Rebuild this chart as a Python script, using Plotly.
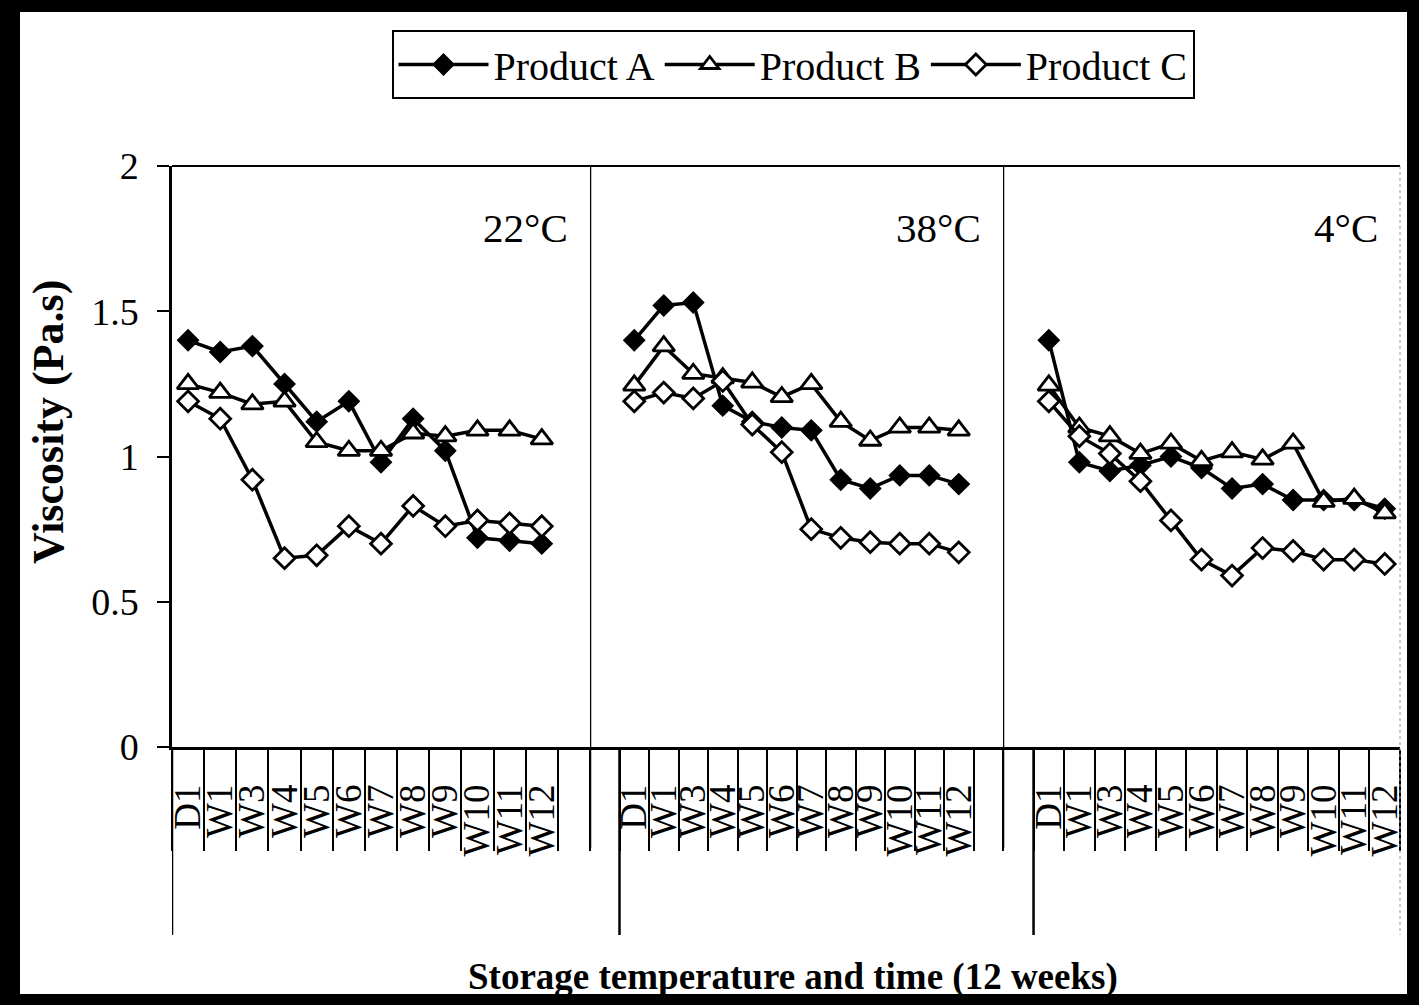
import plotly.graph_objects as go

# Sampling points (day 1, then weeks) and storage temperatures
categories = ["D1", "W1", "W3", "W4", "W5", "W6", "W7", "W8", "W9", "W10", "W11", "W12"]
temperatures = ["22°C", "38°C", "4°C"]
products = ["Product A", "Product B", "Product C"]

# Viscosity (Pa.s) at 22°C
a_22 = [1.40, 1.36, 1.38, 1.25, 1.12, 1.19, 0.98, 1.13, 1.02, 0.72, 0.71, 0.70]
b_22 = [1.25, 1.22, 1.18, 1.19, 1.05, 1.02, 1.02, 1.08, 1.07, 1.09, 1.09, 1.06]
c_22 = [1.19, 1.13, 0.92, 0.65, 0.66, 0.76, 0.70, 0.83, 0.76, 0.78, 0.77, 0.76]

# Viscosity (Pa.s) at 38°C
a_38 = [1.40, 1.52, 1.53, 1.175, 1.12, 1.10, 1.09, 0.92, 0.89, 0.935, 0.935, 0.905]
b_38 = [1.245, 1.38, 1.285, 1.27, 1.255, 1.205, 1.25, 1.12, 1.055, 1.10, 1.10, 1.09]
c_38 = [1.19, 1.22, 1.20, 1.26, 1.11, 1.015, 0.75, 0.72, 0.705, 0.70, 0.70, 0.67]

# Viscosity (Pa.s) at 4°C
a_4 = [1.40, 0.98, 0.95, 0.97, 1.00, 0.96, 0.89, 0.905, 0.85, 0.85, 0.85, 0.82]
b_4 = [1.245, 1.10, 1.07, 1.01, 1.045, 0.985, 1.015, 0.99, 1.045, 0.845, 0.855, 0.805]
c_4 = [1.19, 1.07, 1.01, 0.915, 0.78, 0.645, 0.59, 0.685, 0.675, 0.645, 0.645, 0.63]

y_ticks = [0, 0.5, 1, 1.5, 2]
y_tick_text = ["0", "0.5", "1", "1.5", "2"]

series = {
    "22°C": [a_22, b_22, c_22],
    "38°C": [a_38, b_38, c_38],
    "4°C": [a_4, b_4, c_4],
}

# ---- page geometry -------------------------------------------------------
W, H = 1419, 1005
ML, MR, MT, MB = 172, 19, 166, 258
PW, PH = W - ML - MR, H - MT - MB
FONT = "Liberation Serif"


def fx(px):
    return (px - ML) / PW


def fy(py):
    return (H - MB - py) / PH


# panel domains and axis ranges (one empty slot pads each panel edge)
domains = [[0, fx(590)], [fx(590), fx(1003)], [fx(1003), 1]]
ranges = [[-0.5, 12.5], [-1.5, 12.5], [-1.5, 11.5]]
xaxes = ["x", "x2", "x3"]

markers = [
    dict(symbol="diamond", size=16, color="black",
         line=dict(color="black", width=1.5)),
    dict(symbol="triangle-up", size=19, color="white",
         line=dict(color="black", width=2.8)),
    dict(symbol="diamond", size=16, color="white",
         line=dict(color="black", width=2.8)),
]

fig = go.Figure()
xs = list(range(len(categories)))
for p, temp in enumerate(temperatures):
    for k, name in enumerate(products):
        fig.add_trace(go.Scatter(
            x=xs, y=series[temp][k], mode="lines+markers", name=name,
            legendgroup=name, showlegend=(p == 0),
            xaxis=xaxes[p], yaxis="y",
            line=dict(color="black", width=3.5),
            marker=markers[k], cliponaxis=False,
        ))

layout_axes = {}
for p in range(3):
    lo, hi = ranges[p]
    bounds = [lo + i for i in range(int(hi - lo) + 1)]
    key = "xaxis" if p == 0 else f"xaxis{p + 1}"
    layout_axes[key] = dict(
        domain=domains[p], range=ranges[p], anchor="y",
        showline=True, linecolor="black", linewidth=2.5,
        showgrid=False, zeroline=False,
        tickmode="array", tickvals=xs, ticktext=categories, tickangle=-90,
        ticks="outside", ticklen=20, tickcolor="rgba(0,0,0,0)",
        tickfont=dict(family=FONT, size=37, color="black"),
        minor=dict(tickmode="array", tickvals=bounds, ticks="outside",
                   ticklen=101, tickwidth=2, tickcolor="black",
                   showgrid=False),
    )

shapes = []
# image frame
black = dict(type="rect", xref="paper", yref="paper", fillcolor="black",
             line=dict(width=0), layer="above")
shapes += [
    dict(black, x0=fx(0), x1=fx(20), y0=fy(H), y1=fy(0)),
    dict(black, x0=fx(1407), x1=fx(W), y0=fy(H), y1=fy(0)),
    dict(black, x0=fx(0), x1=fx(W), y0=fy(12), y1=fy(0)),
    dict(black, x0=fx(0), x1=fx(W), y0=fy(H), y1=fy(994)),
]
# top border of plot area
shapes.append(dict(type="line", xref="paper", yref="paper", x0=0, x1=1,
                   y0=1, y1=1, line=dict(color="black", width=2)))
# panel separators running through the plot and down the tick band
for ax in ["x2", "x3"]:
    shapes.append(dict(type="line", xref=ax, yref="paper", x0=-1.5, x1=-1.5,
                       y0=1, y1=fy(848), line=dict(color="black", width=2.5)))
# group separators below the axis
for ax in xaxes:
    shapes.append(dict(type="line", xref=ax, yref="paper", x0=-0.5, x1=-0.5,
                       y0=0, y1=fy(935), line=dict(color="black", width=2.5)))
# faint right edge
shapes.append(dict(type="line", xref="paper", yref="paper", x0=1, x1=1,
                   y0=1, y1=fy(935), line=dict(color="#9a9a9a", width=1, dash="dot")))

annotations = []
for p, temp in enumerate(temperatures):
    annotations.append(dict(
        text=temp, xref=f"{xaxes[p]} domain", yref="paper", x=1, y=fy(228),
        xanchor="right", yanchor="middle", xshift=-20, showarrow=False,
        font=dict(family=FONT, size=41, color="black"),
    ))
annotations.append(dict(
    text="<b>Storage temperature and time (12 weeks)</b>", xref="paper", yref="paper",
    x=fx(793), y=fy(977), xanchor="center", yanchor="middle", showarrow=False,
    font=dict(family=FONT, size=37, color="black"),
))
annotations.append(dict(
    text="<b>Viscosity (Pa.s)</b>", xref="paper", yref="paper",
    x=fx(48), y=fy(422), xanchor="center", yanchor="middle", textangle=-90,
    showarrow=False, font=dict(family=FONT, size=44, color="black"),
))

fig.update_layout(
    width=W, height=H,
    margin=dict(l=ML, r=MR, t=MT, b=MB),
    paper_bgcolor="white", plot_bgcolor="white",
    showlegend=True,
    legend=dict(
        orientation="h", x=fx(793), xanchor="center", y=fy(30), yanchor="top",
        bordercolor="black", borderwidth=2, bgcolor="white",
        font=dict(family=FONT, size=40, color="black"),
        itemwidth=90, traceorder="normal",
    ),
    yaxis=dict(
        domain=[0, 1], range=[0, 2], anchor="x",
        showline=True, linecolor="black", linewidth=2.5,
        showgrid=False, zeroline=False,
        tickmode="array", tickvals=y_ticks, ticktext=y_tick_text,
        ticks="outside", ticklen=12, tickwidth=2, tickcolor="black",
        ticklabelstandoff=11,
        tickfont=dict(family=FONT, size=38, color="black"),
    ),
    shapes=shapes,
    annotations=annotations,
    **layout_axes,
)

fig.write_html("out.html")
